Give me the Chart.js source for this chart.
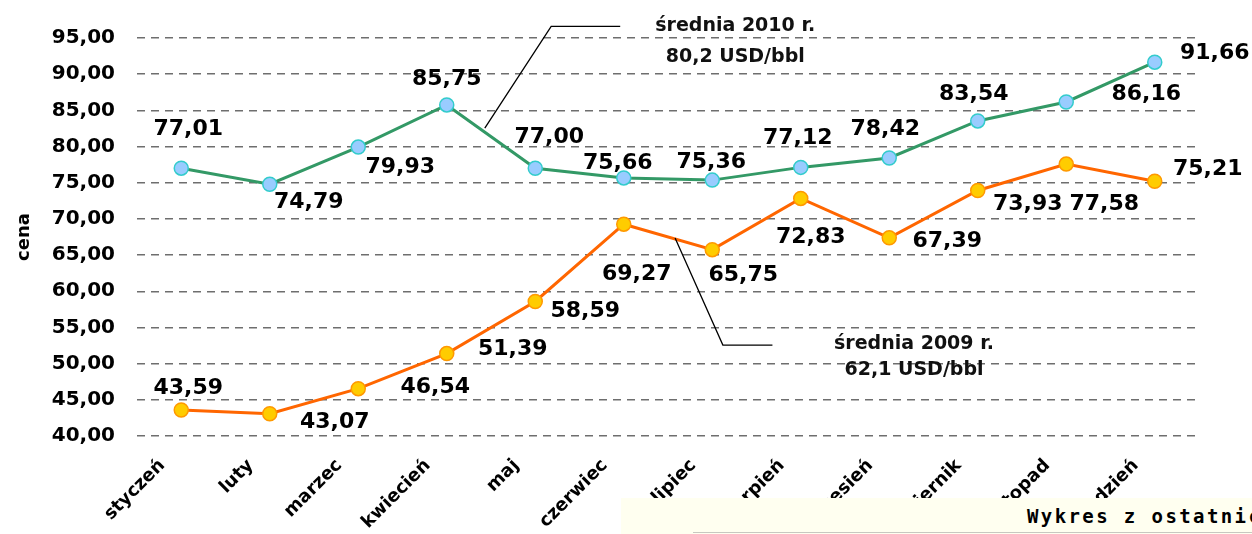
<!DOCTYPE html>
<html lang="pl">
<head>
<meta charset="utf-8">
<script src="https://cdn.jsdelivr.net/npm/chart.js@4/dist/chart.umd.min.js"></script>
<style>
  body { margin: 0; background: #fff; }
  #wrap { position: relative; width: 1252px; height: 534px; overflow: hidden; }
  #pasek {
    position: absolute; left: 621px; top: 498px; width: 640px; height: 36px;
    background: #fffff0; white-space: nowrap; overflow: hidden;
  }
  #pasek .linia { position: absolute; left: 72px; right: 0; bottom: 1px; height: 1px; background: #c8c8c0; }
  #pasek span {
    position: absolute; left: 406px; top: 7px;
    font: bold 19px "DejaVu Sans Mono", monospace; letter-spacing: 2.4px; color: #000;
  }
</style>
</head>
<body>
<div id="wrap">
  <canvas id="wykres" width="1252" height="534"></canvas>
  <div id="pasek"><div class="linia"></div><span>Wykres z ostatnich miesięcy</span></div>
</div>
<script>
// ===== dane =====
const miesiace = ['styczeń', 'luty', 'marzec', 'kwiecień', 'maj', 'czerwiec', 'lipiec',
  'sierpień', 'wrzesień', 'październik', 'listopad', 'grudzień'];
const ceny2010 = [77.01, 74.79, 79.93, 85.75, 77.00, 75.66, 75.36, 77.12, 78.42, 83.54, 86.16, 91.66];
const ceny2009 = [43.59, 43.07, 46.54, 51.39, 58.59, 69.27, 65.75, 72.83, 67.39, 73.93, 77.58, 75.21];
const osY = { min: 40, max: 95, krok: 5 };

// przesuniecia etykiet wartosci (px) wzgledem punktu
const etyk2010 = [[7, -40], [39, 17], [42, 19], [0, -27], [14, -32], [-6, -16], [-1, -19], [-3, -30], [-4, -30], [-4, -28], [80, -9], [60, -10]];
const etyk2009 = [[7, -23], [65, 7], [77, -2], [66, -5], [50, 9], [13, 49], [31, 25], [10, 38], [58, 2], [50, 13], [38, 39], [53, -13]];

// opisy srednich (wspolrzedne w jednostkach osi)
const srednie = [
  { linie: ['średnia 2010 r.', '80,2 USD/bbl'], x: 6.26, y: [96.6, 92.3],
    lacznik: [[3.43, 82.56], [4.18, 96.6], [4.96, 96.6]] },
  { linie: ['średnia 2009 r.', '62,1 USD/bbl'], x: 8.28, y: [52.75, 49.1],
    lacznik: [[5.58, 67.36], [6.12, 52.57], [6.68, 52.57]] }
];

const fmt = v => v.toFixed(2).replace('.', ',');

const pluginEtykiety = {
  id: 'etykiety',
  afterDatasetsDraw(chart) {
    const ctx = chart.ctx;
    const sx = chart.scales.x, sy = chart.scales.y;
    ctx.save();
    // laczniki i opisy srednich
    ctx.strokeStyle = '#000';
    ctx.lineWidth = 1.3;
    srednie.forEach(s => {
      ctx.beginPath();
      s.lacznik.forEach((p, i) => {
        const px = sx.left + (p[0] + 0.5) * (sx.width / miesiace.length);
        const py = sy.getPixelForValue(p[1]);
        if (i === 0) ctx.moveTo(px, py); else ctx.lineTo(px, py);
      });
      ctx.stroke();
      ctx.fillStyle = '#111';
      ctx.font = 'bold 19px "DejaVu Sans"';
      ctx.textAlign = 'center';
      ctx.textBaseline = 'middle';
      const tx = sx.left + (s.x + 0.5) * (sx.width / miesiace.length);
      s.linie.forEach((t, i) => ctx.fillText(t, tx, sy.getPixelForValue(s.y[i])));
    });
    // wartosci
    ctx.fillStyle = '#000';
    ctx.font = 'bold 22px "DejaVu Sans"';
    ctx.textAlign = 'center';
    ctx.textBaseline = 'middle';
    [etyk2010, etyk2009].forEach((off, di) => {
      const meta = chart.getDatasetMeta(di);
      const dane = chart.data.datasets[di].data;
      meta.data.forEach((pt, i) => {
        ctx.fillText(fmt(dane[i]), pt.x + off[i][0], pt.y + off[i][1] + 1);
      });
    });
    ctx.restore();
  }
};

new Chart(document.getElementById('wykres'), {
  type: 'line',
  data: {
    labels: miesiace,
    datasets: [
      {
        label: '2010',
        data: ceny2010,
        borderColor: '#339966',
        borderWidth: 3,
        pointRadius: 7,
        pointBackgroundColor: '#99ccff',
        pointBorderColor: '#33cccc',
        pointBorderWidth: 1.5,
        tension: 0
      },
      {
        label: '2009',
        data: ceny2009,
        borderColor: '#ff6600',
        borderWidth: 3,
        pointRadius: 7,
        pointBackgroundColor: '#ffcc00',
        pointBorderColor: '#ff9900',
        pointBorderWidth: 1.5,
        tension: 0
      }
    ]
  },
  options: {
    responsive: false,
    animation: false,
    events: [],
    layout: { padding: { top: 38, right: 53, left: 0, bottom: 0 } },
    plugins: { legend: { display: false }, tooltip: { enabled: false } },
    scales: {
      x: {
        offset: true,
        grid: { display: false },
        border: { display: false },
        afterFit: s => { s.height = 98; },
        ticks: {
          minRotation: 45,
          maxRotation: 45,
          autoSkip: false,
          padding: 11,
          labelOffset: -19,
          color: '#000',
          font: { family: 'DejaVu Sans', weight: 'bold', size: 18 }
        }
      },
      y: {
        min: osY.min,
        max: osY.max,
        afterFit: s => { s.width = 137; },
        grid: { color: '#6e6e6e', lineWidth: 1.5, drawTicks: false },
        border: { display: false, dash: [8, 6] },
        title: {
          display: true,
          text: 'cena',
          color: '#000',
          padding: { top: 14, bottom: 0 },
          font: { family: 'DejaVu Sans', weight: 'bold', size: 18 }
        },
        ticks: {
          stepSize: osY.krok,
          padding: 22,
          color: '#000',
          font: { family: 'DejaVu Sans', weight: 'bold', size: 20 },
          callback: v => fmt(v)
        }
      }
    }
  },
  plugins: [pluginEtykiety]
});
</script>
</body>
</html>
